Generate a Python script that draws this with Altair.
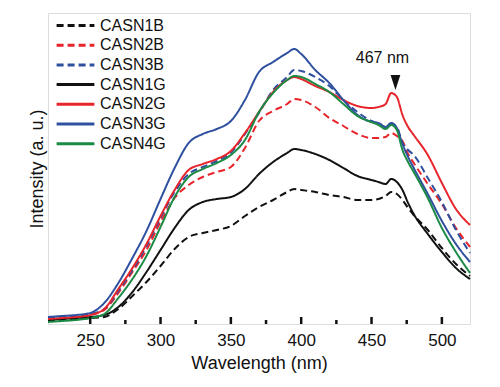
import altair as alt
import pandas as pd

# ---------------- data ----------------
wavelength = [220, 230, 240, 250, 260, 270, 280, 290, 300, 310, 320, 330, 340, 350, 360,
              370, 380, 390, 395, 400, 410, 420, 430, 440, 450, 455, 460, 464, 468, 472,
              476, 480, 490, 500, 510, 520]

casn1b = [3, 4, 5, 6, 7, 15, 28, 42, 58, 75, 87, 91, 94, 98, 108, 117, 124, 132, 135, 134,
          132, 129, 127, 124, 124, 125, 128, 132, 130, 124, 116, 109, 94, 76, 60, 48]
casn2b = [5, 6, 7, 9, 14, 31, 52, 74, 102, 126, 139, 147, 152, 157, 176, 203, 213, 220, 225,
          224, 217, 206, 198, 190, 186, 186, 187, 191, 188, 183, 170, 161, 140, 120, 96, 77]
casn3b = [6, 7, 8, 10, 15, 33, 54, 78, 106, 132, 150, 157, 163, 171, 190, 211, 234, 247, 254,
          253, 247, 238, 224, 212, 203, 200, 197, 200, 197, 181, 174, 169, 146, 122, 94, 71]
casn1g = [4, 5, 6, 7, 9, 17, 32, 52, 74, 96, 114, 122, 125, 127, 135, 150, 162, 171, 175, 174,
          170, 164, 156, 148, 144, 142, 140, 145, 142, 134, 121, 110, 90, 72, 56, 45]
casn2g = [5, 6, 7, 9, 15, 35, 56, 80, 108, 134, 154, 160, 165, 173, 191, 212, 232, 244, 247,
          245, 238, 232, 224, 218, 216, 217, 220, 231, 227, 209, 197, 189, 169, 141, 115, 99]
casn3g = [7, 8, 9, 11, 21, 41, 66, 93, 125, 156, 181, 190, 195, 203, 224, 252, 262, 271, 275,
          270, 254, 241, 224, 209, 202, 201, 197, 201, 196, 180, 167, 156, 130, 103, 80, 62]
casn4g = [2, 3, 4, 6, 10, 26, 45, 68, 97, 127, 147, 155, 161, 169, 184, 212, 231, 244, 248,
          247, 240, 232, 220, 208, 202, 199, 195, 199, 194, 174, 162, 152, 126, 96, 72, 51]

series_names = ["CASN1B", "CASN2B", "CASN3B", "CASN1G", "CASN2G", "CASN3G", "CASN4G"]
series_values = [casn1b, casn2b, casn3b, casn1g, casn2g, casn3g, casn4g]

x_tick_labels = [250, 300, 350, 400, 450, 500]
x_minor_ticks = [275, 325, 375, 425, 475]

peak_wavelength = 467
peak_label = "467 nm"

# ---------------- styling ----------------
colors = ["#111111", "#e8242b", "#2f4f9f", "#111111", "#e8242b", "#2f4f9f", "#1b8a45"]
dashes = [[7, 4], [7, 4], [7, 4], [1, 0], [1, 0], [1, 0], [1, 0]]
FONT = "Liberation Sans"

rows = []
for name, vals in zip(series_names, series_values):
    for w, v in zip(wavelength, vals):
        rows.append({"series": name, "wavelength": w, "intensity": v})
df = pd.DataFrame(rows)

x_scale = alt.Scale(domain=[220, 520], nice=False, zero=False)
y_scale = alt.Scale(domain=[0, 311], nice=False)

legend_cfg = dict(
    title=None, orient="none", legendX=17, legendY=2,
    symbolType="M-2.1,0H2.1", symbolSize=324, symbolStrokeWidth=3,
    symbolFillColor="transparent",
    labelFont=FONT, labelFontSize=16, labelColor="#111111", labelOffset=14,
    rowPadding=0.7, padding=0,
)

lines = alt.Chart(df).mark_line(strokeWidth=2, interpolate="monotone").encode(
    x=alt.X("wavelength:Q", scale=x_scale,
            axis=alt.Axis(values=x_tick_labels, ticks=False, domain=False, grid=False,
                          labelFont=FONT, labelFontSize=17, labelColor="#111111",
                          labelPadding=8, title="Wavelength (nm)", titleFont=FONT,
                          titleFontSize=18, titleFontWeight="normal", titleColor="#111111",
                          titlePadding=6)),
    y=alt.Y("intensity:Q", scale=y_scale,
            axis=alt.Axis(labels=False, ticks=False, domain=False, grid=False,
                          title="Intensity (a. u.)", titleFont=FONT, titleFontSize=18,
                          titleFontWeight="normal", titleColor="#111111", titlePadding=2)),
    color=alt.Color("series:N", scale=alt.Scale(domain=series_names, range=colors),
                    legend=alt.Legend(**legend_cfg)),
    strokeDash=alt.StrokeDash("series:N", scale=alt.Scale(domain=series_names, range=dashes),
                              legend=alt.Legend(**legend_cfg)),
    order=alt.Order("series:N"),
)

major_df = pd.DataFrame({"t": x_tick_labels, "len": [7] * len(x_tick_labels)})
minor_df = pd.DataFrame({"t": x_minor_ticks, "len": [4] * len(x_minor_ticks)})
ticks_df = pd.concat([major_df, minor_df])
ticks = alt.Chart(ticks_df).mark_rule(color="#111111", strokeWidth=2.5).encode(
    x=alt.X("t:Q", scale=x_scale),
    y=alt.Y("zero:Q", scale=y_scale),
    y2="len:Q",
).transform_calculate(zero="0")

ann_df = pd.DataFrame({"w": [peak_wavelength], "label": [peak_label]})
arrow = alt.Chart(ann_df).mark_point(
    shape="M-0.65,-1L0.65,-1L0,1Z", filled=True, color="#111111", opacity=1, size=225
).encode(x=alt.X("w:Q", scale=x_scale), y=alt.Y("ay:Q", scale=y_scale)).transform_calculate(ay="241.5")

label = alt.Chart(ann_df).mark_text(
    font=FONT, fontSize=16, color="#111111", baseline="alphabetic", align="center", dx=-13
).encode(x=alt.X("w:Q", scale=x_scale), y=alt.Y("ty:Q", scale=y_scale),
         text="label:N").transform_calculate(ty="261")

chart = alt.layer(lines, ticks, arrow, label).properties(
    width=422, height=311,
    padding={"left": 40, "top": 5, "right": 22, "bottom": 55},
    autosize=alt.AutoSizeParams(type="none"),
).configure_view(stroke="#111111", strokeWidth=3).configure(background="white")

chart.save("out.html", embed_options={"renderer": "svg", "actions": False})
